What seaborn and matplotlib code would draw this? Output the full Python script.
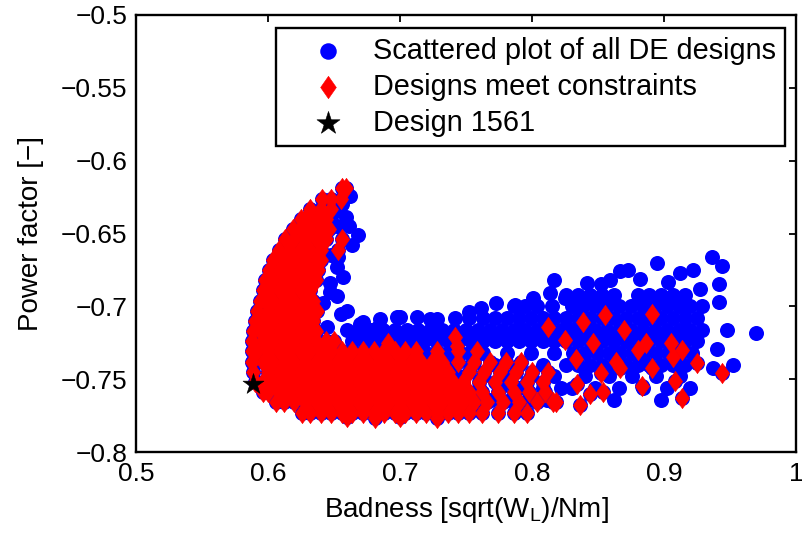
import numpy as np
import pandas as pd
import matplotlib
matplotlib.use("Agg")
import matplotlib.pyplot as plt
from matplotlib.path import Path
import seaborn as sns

# ---------------------------------------------------------------------------
# Feasible designs (they are also part of the full DE population)
# dense "hook" of the front, one list of badness values per power-factor row
hook_pf = [-0.619, -0.626, -0.633, -0.640, -0.647, -0.654, -0.661, -0.668,
           -0.675, -0.682, -0.689, -0.696, -0.703, -0.710, -0.717, -0.724]
hook_badness = [
    [0.656, 0.659],
    [0.641, 0.648, 0.655],
    [0.632, 0.640, 0.648],
    [0.625, 0.628, 0.636, 0.644],
    [0.619, 0.624, 0.632, 0.640, 0.646],
    [0.613, 0.620, 0.628, 0.636, 0.644, 0.656],
    [0.608, 0.616, 0.624, 0.632, 0.640, 0.653],
    [0.604, 0.612, 0.620, 0.628, 0.636, 0.640],
    [0.601, 0.608, 0.616, 0.624, 0.632, 0.638],
    [0.598, 0.604, 0.612, 0.620, 0.628, 0.636],
    [0.596, 0.600, 0.608, 0.616, 0.624, 0.632],
    [0.594, 0.598, 0.604, 0.612, 0.620, 0.628, 0.634],
    [0.592, 0.600, 0.608, 0.616, 0.624, 0.632, 0.637],
    [0.590, 0.596, 0.604, 0.612, 0.620, 0.628, 0.634],
    [0.589, 0.594, 0.600, 0.608, 0.616, 0.624, 0.632, 0.636],
    [0.588, 0.596, 0.604, 0.612, 0.620, 0.628, 0.636, 0.644, 0.650],
]

# lower band of feasible designs
band_pf = [-0.731, -0.738, -0.745, -0.752, -0.759, -0.766, -0.773]
band_badness = [
    [0.588, 0.592, 0.600, 0.608, 0.616, 0.624, 0.632, 0.640, 0.648, 0.656,
     0.664, 0.672, 0.680, 0.688, 0.696, 0.704, 0.712, 0.728, 0.744, 0.758],
    [0.588, 0.596, 0.604, 0.612, 0.620, 0.628, 0.636, 0.644, 0.652, 0.660,
     0.668, 0.676, 0.684, 0.692, 0.700, 0.708, 0.716, 0.724, 0.732, 0.744,
     0.756, 0.768, 0.780, 0.792],
    [0.589, 0.600, 0.608, 0.616, 0.624, 0.632, 0.640, 0.648, 0.656, 0.664,
     0.672, 0.680, 0.688, 0.696, 0.704, 0.712, 0.720, 0.728, 0.736, 0.752,
     0.764, 0.776, 0.788, 0.800, 0.812],
    [0.590, 0.596, 0.604, 0.612, 0.620, 0.628, 0.636, 0.644, 0.652, 0.660,
     0.668, 0.676, 0.684, 0.692, 0.700, 0.708, 0.716, 0.724, 0.732, 0.740,
     0.748, 0.760, 0.772, 0.784, 0.796, 0.808],
    [0.596, 0.600, 0.608, 0.616, 0.624, 0.632, 0.640, 0.648, 0.656, 0.664,
     0.672, 0.680, 0.688, 0.696, 0.704, 0.712, 0.720, 0.728, 0.736, 0.744,
     0.752, 0.762, 0.774, 0.786, 0.798, 0.810],
    [0.606, 0.612, 0.620, 0.628, 0.636, 0.644, 0.652, 0.660, 0.668, 0.676,
     0.684, 0.692, 0.700, 0.708, 0.716, 0.724, 0.732, 0.740, 0.748, 0.756,
     0.766, 0.778, 0.790, 0.804, 0.818],
    [0.626, 0.632, 0.640, 0.648, 0.656, 0.664, 0.672, 0.680, 0.688, 0.696,
     0.704, 0.712, 0.720, 0.728, 0.736, 0.744, 0.752, 0.762, 0.774, 0.786,
     0.796],
]

# isolated feasible designs
spread_badness = [0.812, 0.839, 0.855, 0.891, 0.870, 0.846, 0.825, 0.880, 0.886, 0.905,
                  0.914, 0.907, 0.925, 0.944, 0.914, 0.908, 0.883, 0.891, 0.864, 0.867,
                  0.852, 0.833, 0.834, 0.844, 0.854, 0.836, 0.816, 0.691, 0.743, 0.742,
                  0.681, 0.728, 0.700, 0.660]
spread_pf = [-0.714, -0.711, -0.706, -0.705, -0.716, -0.725, -0.723, -0.730, -0.725, -0.725,
             -0.730, -0.735, -0.739, -0.746, -0.763, -0.751, -0.755, -0.742, -0.738, -0.742,
             -0.746, -0.736, -0.753, -0.760, -0.759, -0.768, -0.766, -0.725, -0.727, -0.721,
             -0.777, -0.777, -0.776, -0.776]

# ---------------------------------------------------------------------------
# Designs violating the constraints
reject_badness = [0.662, 0.656, 0.659, 0.652, 0.668, 0.664, 0.653, 0.652, 0.647, 0.647,
                  0.642, 0.655, 0.645, 0.670, 0.683, 0.700, 0.713, 0.723,
                  0.650, 0.661, 0.648, 0.657, 0.652, 0.660,
                  0.672, 0.685, 0.698, 0.728, 0.742, 0.752, 0.761, 0.773, 0.787, 0.801,
                  0.814, 0.825,
                  0.817, 0.842, 0.852, 0.859, 0.867, 0.873, 0.882, 0.895, 0.903, 0.912,
                  0.922, 0.927, 0.936, 0.944, 0.942, 0.942, 0.970, 0.948, 0.940, 0.937,
                  0.952]
reject_pf = [-0.624, -0.630, -0.639, -0.645, -0.651, -0.658, -0.666, -0.673, -0.684, -0.690,
             -0.698, -0.705, -0.714, -0.712, -0.714, -0.707, -0.707, -0.709,
             -0.635, -0.645, -0.665, -0.680, -0.693, -0.703,
             -0.711, -0.709, -0.707, -0.709, -0.708, -0.704, -0.701, -0.698, -0.699, -0.694,
             -0.691, -0.694,
             -0.682, -0.684, -0.685, -0.682, -0.676, -0.675, -0.681, -0.670, -0.683, -0.677,
             -0.675, -0.688, -0.666, -0.672, -0.685, -0.697, -0.718, -0.716, -0.729, -0.742,
             -0.740]

reject_rows_pf = [-0.692, -0.700, -0.708, -0.716, -0.724, -0.732, -0.740, -0.748, -0.756, -0.764]
reject_rows_badness = [
    [0.826, 0.835, 0.844, 0.853, 0.862, 0.880, 0.889, 0.898, 0.907, 0.916],
    [0.786, 0.795, 0.804, 0.815, 0.830, 0.839, 0.848, 0.857, 0.866, 0.875,
     0.884, 0.893, 0.902, 0.911, 0.920, 0.929],
    [0.752, 0.763, 0.772, 0.781, 0.790, 0.799, 0.808, 0.817, 0.826, 0.835,
     0.844, 0.853, 0.862, 0.871, 0.880, 0.889, 0.898, 0.907, 0.916, 0.925],
    [0.660, 0.669, 0.678, 0.687, 0.696, 0.705, 0.714, 0.723, 0.732, 0.741,
     0.750, 0.759, 0.768, 0.777, 0.786, 0.795, 0.804, 0.813, 0.822, 0.830,
     0.839, 0.848, 0.857, 0.866, 0.875, 0.884, 0.893, 0.902, 0.911, 0.920, 0.929],
    [0.664, 0.673, 0.682, 0.691, 0.700, 0.709, 0.718, 0.727, 0.736, 0.745,
     0.754, 0.763, 0.772, 0.781, 0.790, 0.799, 0.808, 0.817, 0.826, 0.835,
     0.844, 0.853, 0.862, 0.871, 0.880, 0.889, 0.898, 0.907, 0.916, 0.925],
    [0.720, 0.736, 0.752, 0.763, 0.781, 0.799, 0.817, 0.831, 0.840, 0.849,
     0.858, 0.867, 0.876, 0.885, 0.894, 0.903, 0.912, 0.921],
    [0.724, 0.740, 0.754, 0.772, 0.790, 0.808, 0.826, 0.835, 0.844, 0.853,
     0.862, 0.871, 0.880, 0.889, 0.898, 0.907, 0.916],
    [0.720, 0.745, 0.763, 0.781, 0.799, 0.817, 0.840, 0.858, 0.876, 0.894, 0.912],
    [0.744, 0.760, 0.776, 0.790, 0.808, 0.822, 0.830, 0.848, 0.866, 0.884, 0.902, 0.920],
    [0.756, 0.769, 0.783, 0.797, 0.811, 0.862, 0.898],
]

# Selected design
best_badness = [0.589]
best_pf = [-0.753]

x_ticks = [0.5, 0.6, 0.7, 0.8, 0.9, 1.0]
x_tick_labels = ["0.5", "0.6", "0.7", "0.8", "0.9", "1"]
y_ticks = [-0.8, -0.75, -0.7, -0.65, -0.6, -0.55, -0.5]
y_tick_labels = ["\u22120.8", "\u22120.75", "\u22120.7", "\u22120.65", "\u22120.6",
                 "\u22120.55", "\u22120.5"]


def rows_frame(pf_rows, badness_rows):
    xs, ys = [], []
    for pf, row in zip(pf_rows, badness_rows):
        xs.extend(row)
        ys.extend([pf] * len(row))
    return pd.DataFrame({"badness": xs, "pf": ys})


feasible = pd.concat([
    rows_frame(hook_pf, hook_badness),
    rows_frame(band_pf, band_badness),
    pd.DataFrame({"badness": spread_badness, "pf": spread_pf}),
], ignore_index=True)

rejected = pd.concat([
    pd.DataFrame({"badness": reject_badness, "pf": reject_pf}),
    rows_frame(reject_rows_pf, reject_rows_badness),
], ignore_index=True)

population = pd.concat([rejected, feasible], ignore_index=True)
best = pd.DataFrame({"badness": best_badness, "pf": best_pf})

# ---------------------------------------------------------------------------
sns.set_style("white")
plt.rcParams["font.family"] = ["Liberation Sans", "DejaVu Sans"]
plt.rcParams["mathtext.fontset"] = "custom"
plt.rcParams["mathtext.rm"] = "Liberation Sans"
for key in ("text.color", "axes.labelcolor", "xtick.color", "ytick.color"):
    plt.rcParams[key] = "black"

fig = plt.figure(figsize=(8.02, 5.33), dpi=100)
ax = fig.add_axes([136 / 802, 81 / 533, 660 / 802, 437 / 533])

diamond = Path([(0, 1), (0.7, 0), (0, -1), (-0.7, 0), (0, 1)],
               [Path.MOVETO, Path.LINETO, Path.LINETO, Path.LINETO, Path.CLOSEPOLY])

sns.scatterplot(data=population, x="badness", y="pf", ax=ax, marker="o", s=117,
                color=(0, 0, 1), edgecolor=(0, 0, 1), linewidth=0,
                label="Scattered plot of all DE designs", zorder=2)
sns.scatterplot(data=feasible, x="badness", y="pf", ax=ax, marker=diamond, s=215,
                color=(1, 0, 0), edgecolor=(1, 0, 0), linewidth=0.4,
                label="Designs meet constraints", zorder=3)
sns.scatterplot(data=best, x="badness", y="pf", ax=ax, marker="*", s=250,
                color="black", edgecolor="black", linewidth=0.4,
                label="Design 1561", zorder=4)

ax.set_xlim(0.5, 1.0)
ax.set_ylim(-0.8, -0.5)
ax.set_xticks(x_ticks)
ax.set_xticklabels(x_tick_labels)
ax.set_yticks(y_ticks)
ax.set_yticklabels(y_tick_labels)
ax.tick_params(direction="in", length=5, width=1.3, top=True, right=True,
               labelsize=19, colors="black")
ax.tick_params(axis="x", pad=7)
ax.tick_params(axis="y", pad=6)
for sp in ax.spines.values():
    sp.set_visible(True)
    sp.set_linewidth(1.7)
    sp.set_color("black")

ax.set_xlabel(r"Badness [sqrt(W$_\mathregular{L}$)/Nm]", fontsize=20, labelpad=7)
ax.set_ylabel("Power factor [\u2212]", fontsize=20, labelpad=12)

handles, labels = ax.get_legend_handles_labels()
leg = ax.legend(handles, labels, loc="upper right", bbox_to_anchor=(0.983, 0.970),
                borderaxespad=0, frameon=True, fancybox=False, framealpha=1,
                edgecolor="black", fontsize=20.8, borderpad=0.3, handlelength=3.0,
                handletextpad=0.05, labelspacing=0.28, markerscale=1.1)
leg.get_frame().set_linewidth(1.7)

fig.savefig("out.png", dpi=100)
